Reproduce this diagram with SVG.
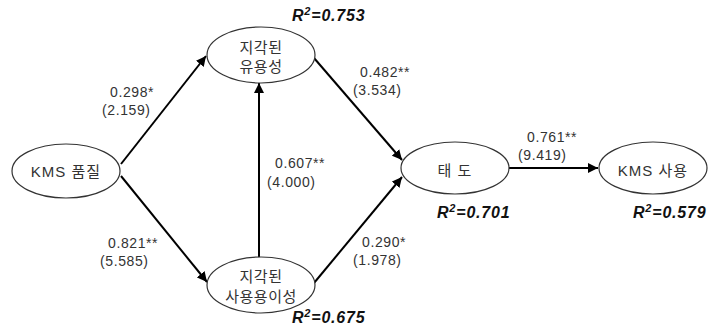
<svg xmlns="http://www.w3.org/2000/svg" width="708" height="329" viewBox="0 0 708 329">
<style>
.node ellipse{fill:#fff;stroke:#333;stroke-width:1.2}
.lbl{font-family:"Liberation Sans","Noto Sans CJK KR",sans-serif;font-size:15px;fill:#333;text-anchor:middle;letter-spacing:0.5px}
.num{font-family:"Liberation Sans","Noto Sans CJK KR",sans-serif;font-size:14px;fill:#333;letter-spacing:0.6px}
.r2{font-family:"Liberation Sans",sans-serif;font-size:16px;font-weight:bold;font-style:italic;fill:#111;letter-spacing:0.8px}
.edge{stroke:#000;stroke-width:2;fill:none;marker-end:url(#ah)}
</style>
<defs>
<marker id="ah" viewBox="0 0 10 10" refX="10" refY="5" markerWidth="5" markerHeight="5" orient="auto" markerUnits="strokeWidth">
<path d="M0,0 L10,5 L0,10 z" fill="#000"/>
</marker>
</defs>
<rect width="708" height="329" fill="#fff"/>
<g id="connectors">
<line class="edge" x1="121" y1="164" x2="206" y2="56"/>
<line class="edge" x1="121" y1="176" x2="207" y2="282"/>
<line class="edge" x1="259" y1="258" x2="259" y2="83"/>
<line class="edge" x1="314" y1="58" x2="402" y2="160"/>
<line class="edge" x1="314" y1="283" x2="402" y2="177"/>
<line class="edge" x1="509" y1="168" x2="598" y2="168"/>
</g>
<g id="n1" class="node">
<ellipse cx="66" cy="171" rx="54" ry="27"/>
<text class="lbl" x="66" y="177" style="letter-spacing:1px">KMS 품질</text>
</g>
<g id="n2" class="node">
<ellipse cx="261" cy="55" rx="54" ry="28"/>
<text class="lbl" x="261" y="53">지각된</text>
<text class="lbl" x="261" y="72">유용성</text>
</g>
<g id="n3" class="node">
<ellipse cx="261" cy="285" rx="54" ry="28"/>
<text class="lbl" x="261" y="282">지각된</text>
<text class="lbl" x="261" y="302">사용용이성</text>
</g>
<g id="n4" class="node">
<ellipse cx="455" cy="168" rx="54" ry="26"/>
<text class="lbl" x="455" y="176" style="letter-spacing:1px">태  도</text>
</g>
<g id="n5" class="node">
<ellipse cx="653" cy="168" rx="54" ry="26"/>
<text class="lbl" x="653" y="176" style="letter-spacing:1px">KMS 사용</text>
</g>
<g id="labels">
<text class="num" x="110" y="97">0.298*</text>
<text class="num" x="102" y="115">(2.159)</text>
<text class="num" x="275" y="168">0.607**</text>
<text class="num" x="267" y="187">(4.000)</text>
<text class="num" x="108" y="248">0.821**</text>
<text class="num" x="100" y="266">(5.585)</text>
<text class="num" x="360" y="77">0.482**</text>
<text class="num" x="353" y="95">(3.534)</text>
<text class="num" x="527" y="142">0.761**</text>
<text class="num" x="518" y="160">(9.419)</text>
<text class="num" x="362" y="247">0.290*</text>
<text class="num" x="353" y="265">(1.978)</text>
<text class="r2" x="292" y="21">R<tspan font-size="11" dy="-6">2</tspan><tspan dy="6">=0.753</tspan></text>
<text class="r2" x="437" y="218">R<tspan font-size="11" dy="-6">2</tspan><tspan dy="6">=0.701</tspan></text>
<text class="r2" x="633" y="218">R<tspan font-size="11" dy="-6">2</tspan><tspan dy="6">=0.579</tspan></text>
<text class="r2" x="292" y="323">R<tspan font-size="11" dy="-6">2</tspan><tspan dy="6">=0.675</tspan></text>
</g>
</svg>
